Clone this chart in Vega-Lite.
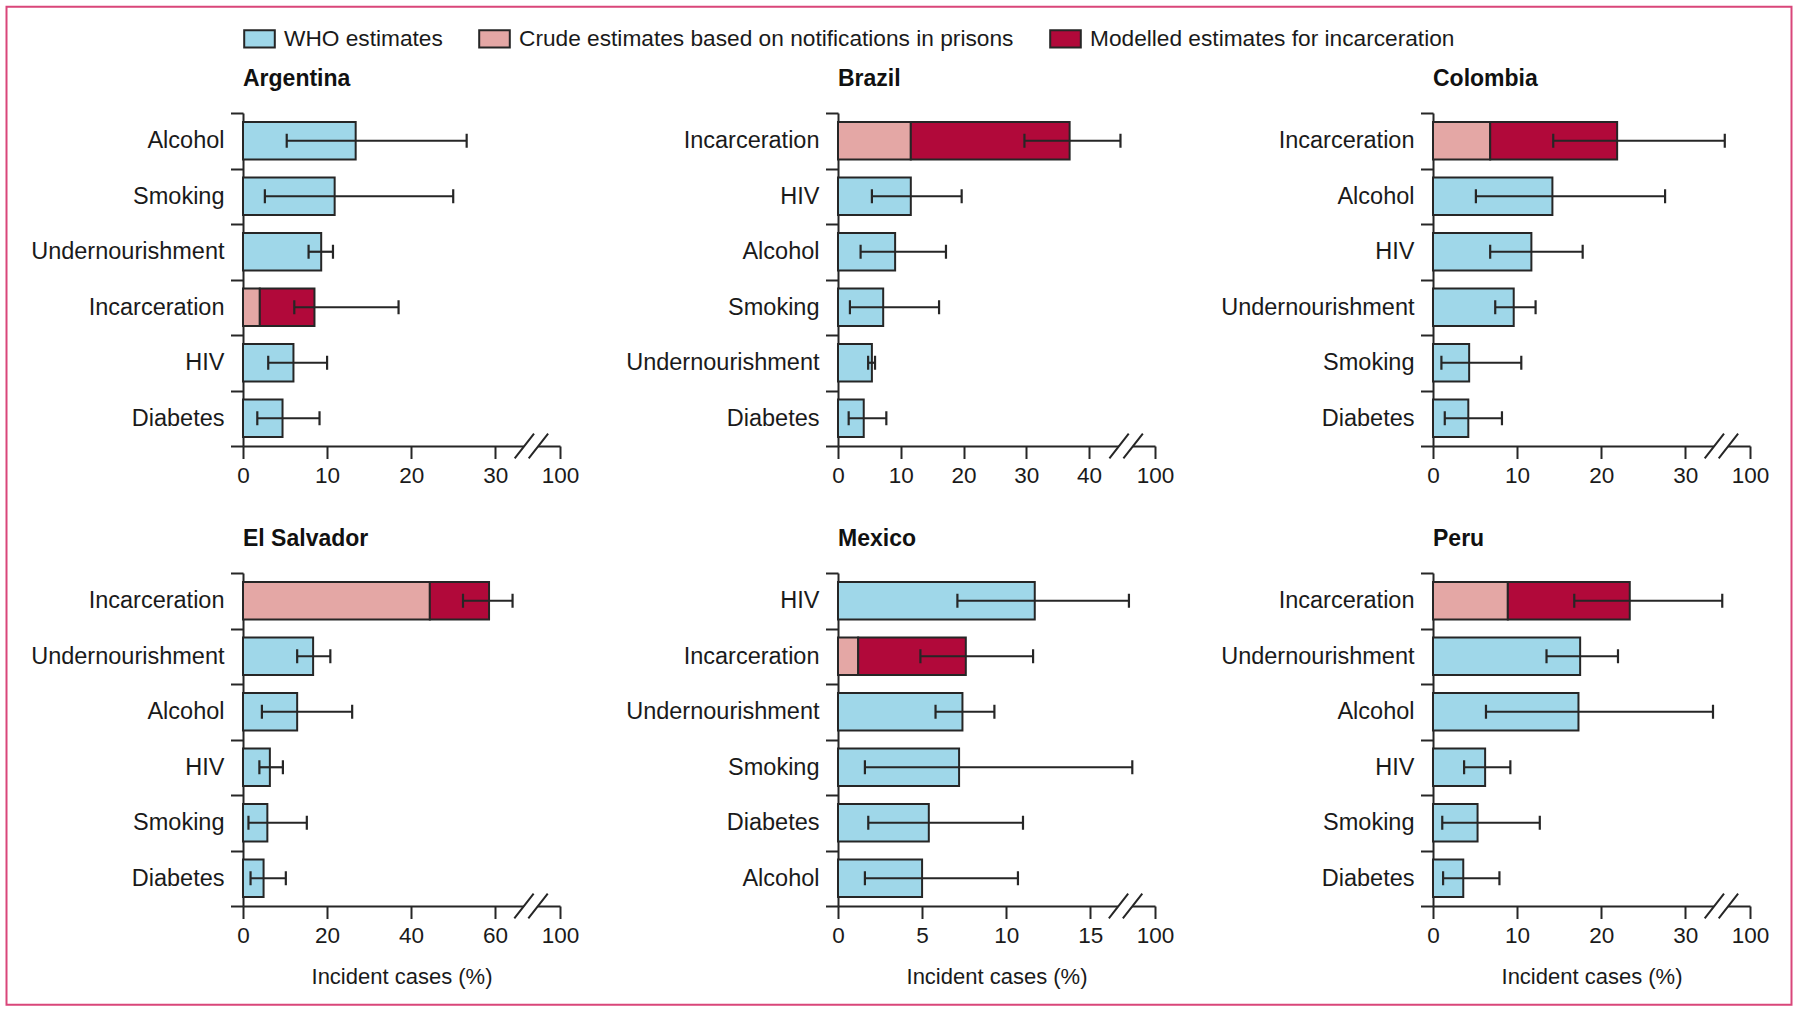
{
  "$schema": "https://vega.github.io/schema/vega-lite/v6.json",
  "padding": {"left": 6, "top": 6, "right": 4, "bottom": 4},
  "datasets": {
    "bars": [
      {"c":"Argentina","f":"Alcohol","t":"WHO estimates","s":0,"e":13.4},
      {"c":"Argentina","f":"Smoking","t":"WHO estimates","s":0,"e":10.9},
      {"c":"Argentina","f":"Undernourishment","t":"WHO estimates","s":0,"e":9.3},
      {"c":"Argentina","f":"Incarceration","t":"Crude estimates based on notifications in prisons","s":0,"e":2.0},
      {"c":"Argentina","f":"Incarceration","t":"Modelled estimates for incarceration","s":2.0,"e":8.5},
      {"c":"Argentina","f":"HIV","t":"WHO estimates","s":0,"e":6.0},
      {"c":"Argentina","f":"Diabetes","t":"WHO estimates","s":0,"e":4.7},
      {"c":"Brazil","f":"Incarceration","t":"Crude estimates based on notifications in prisons","s":0,"e":11.6},
      {"c":"Brazil","f":"Incarceration","t":"Modelled estimates for incarceration","s":11.6,"e":36.9},
      {"c":"Brazil","f":"HIV","t":"WHO estimates","s":0,"e":11.6},
      {"c":"Brazil","f":"Alcohol","t":"WHO estimates","s":0,"e":9.1},
      {"c":"Brazil","f":"Smoking","t":"WHO estimates","s":0,"e":7.2},
      {"c":"Brazil","f":"Undernourishment","t":"WHO estimates","s":0,"e":5.4},
      {"c":"Brazil","f":"Diabetes","t":"WHO estimates","s":0,"e":4.1},
      {"c":"Colombia","f":"Incarceration","t":"Crude estimates based on notifications in prisons","s":0,"e":6.8},
      {"c":"Colombia","f":"Incarceration","t":"Modelled estimates for incarceration","s":6.8,"e":21.9},
      {"c":"Colombia","f":"Alcohol","t":"WHO estimates","s":0,"e":14.2},
      {"c":"Colombia","f":"HIV","t":"WHO estimates","s":0,"e":11.7},
      {"c":"Colombia","f":"Undernourishment","t":"WHO estimates","s":0,"e":9.6},
      {"c":"Colombia","f":"Smoking","t":"WHO estimates","s":0,"e":4.3},
      {"c":"Colombia","f":"Diabetes","t":"WHO estimates","s":0,"e":4.2},
      {"c":"El Salvador","f":"Incarceration","t":"Crude estimates based on notifications in prisons","s":0,"e":44.5},
      {"c":"El Salvador","f":"Incarceration","t":"Modelled estimates for incarceration","s":44.5,"e":58.6},
      {"c":"El Salvador","f":"Undernourishment","t":"WHO estimates","s":0,"e":16.7},
      {"c":"El Salvador","f":"Alcohol","t":"WHO estimates","s":0,"e":12.9},
      {"c":"El Salvador","f":"HIV","t":"WHO estimates","s":0,"e":6.4},
      {"c":"El Salvador","f":"Smoking","t":"WHO estimates","s":0,"e":5.8},
      {"c":"El Salvador","f":"Diabetes","t":"WHO estimates","s":0,"e":4.9},
      {"c":"Mexico","f":"HIV","t":"WHO estimates","s":0,"e":11.7},
      {"c":"Mexico","f":"Incarceration","t":"Crude estimates based on notifications in prisons","s":0,"e":1.2},
      {"c":"Mexico","f":"Incarceration","t":"Modelled estimates for incarceration","s":1.2,"e":7.6},
      {"c":"Mexico","f":"Undernourishment","t":"WHO estimates","s":0,"e":7.4},
      {"c":"Mexico","f":"Smoking","t":"WHO estimates","s":0,"e":7.2},
      {"c":"Mexico","f":"Diabetes","t":"WHO estimates","s":0,"e":5.4},
      {"c":"Mexico","f":"Alcohol","t":"WHO estimates","s":0,"e":5.0},
      {"c":"Peru","f":"Incarceration","t":"Crude estimates based on notifications in prisons","s":0,"e":8.9},
      {"c":"Peru","f":"Incarceration","t":"Modelled estimates for incarceration","s":8.9,"e":23.4},
      {"c":"Peru","f":"Undernourishment","t":"WHO estimates","s":0,"e":17.5},
      {"c":"Peru","f":"Alcohol","t":"WHO estimates","s":0,"e":17.3},
      {"c":"Peru","f":"HIV","t":"WHO estimates","s":0,"e":6.2},
      {"c":"Peru","f":"Smoking","t":"WHO estimates","s":0,"e":5.3},
      {"c":"Peru","f":"Diabetes","t":"WHO estimates","s":0,"e":3.6}
    ],
    "ci": [
      {"c":"Argentina","f":"Alcohol","lo":5.2,"hi":26.6},
      {"c":"Argentina","f":"Smoking","lo":2.6,"hi":25.0},
      {"c":"Argentina","f":"Undernourishment","lo":7.8,"hi":10.7},
      {"c":"Argentina","f":"Incarceration","lo":6.1,"hi":18.5},
      {"c":"Argentina","f":"HIV","lo":3.0,"hi":10.0},
      {"c":"Argentina","f":"Diabetes","lo":1.7,"hi":9.1},
      {"c":"Brazil","f":"Incarceration","lo":29.7,"hi":45.0},
      {"c":"Brazil","f":"HIV","lo":5.4,"hi":19.7},
      {"c":"Brazil","f":"Alcohol","lo":3.6,"hi":17.2},
      {"c":"Brazil","f":"Smoking","lo":1.9,"hi":16.1},
      {"c":"Brazil","f":"Undernourishment","lo":4.8,"hi":5.9},
      {"c":"Brazil","f":"Diabetes","lo":1.7,"hi":7.7},
      {"c":"Colombia","f":"Incarceration","lo":14.3,"hi":34.7},
      {"c":"Colombia","f":"Alcohol","lo":5.1,"hi":27.6},
      {"c":"Colombia","f":"HIV","lo":6.8,"hi":17.8},
      {"c":"Colombia","f":"Undernourishment","lo":7.4,"hi":12.2},
      {"c":"Colombia","f":"Smoking","lo":1.0,"hi":10.5},
      {"c":"Colombia","f":"Diabetes","lo":1.4,"hi":8.2},
      {"c":"El Salvador","f":"Incarceration","lo":52.4,"hi":64.2},
      {"c":"El Salvador","f":"Undernourishment","lo":12.9,"hi":20.8},
      {"c":"El Salvador","f":"Alcohol","lo":4.5,"hi":26.0},
      {"c":"El Salvador","f":"HIV","lo":3.9,"hi":9.5},
      {"c":"El Salvador","f":"Smoking","lo":1.3,"hi":15.2},
      {"c":"El Salvador","f":"Diabetes","lo":1.8,"hi":10.2},
      {"c":"Mexico","f":"HIV","lo":7.1,"hi":17.3},
      {"c":"Mexico","f":"Incarceration","lo":4.9,"hi":11.6},
      {"c":"Mexico","f":"Undernourishment","lo":5.8,"hi":9.3},
      {"c":"Mexico","f":"Smoking","lo":1.6,"hi":17.5},
      {"c":"Mexico","f":"Diabetes","lo":1.8,"hi":11.0},
      {"c":"Mexico","f":"Alcohol","lo":1.6,"hi":10.7},
      {"c":"Peru","f":"Incarceration","lo":16.8,"hi":34.4},
      {"c":"Peru","f":"Undernourishment","lo":13.5,"hi":22.0},
      {"c":"Peru","f":"Alcohol","lo":6.3,"hi":33.3},
      {"c":"Peru","f":"HIV","lo":3.7,"hi":9.2},
      {"c":"Peru","f":"Smoking","lo":1.1,"hi":12.7},
      {"c":"Peru","f":"Diabetes","lo":1.2,"hi":7.9}
    ]
  },
  "columns": 3,
  "spacing": {"row": 127, "column": 278},
  "bounds": "flush",
  "concat": [
    {
      "width": 317, "height": 333,
      "title": {"text": "Argentina"},
      "layer": [
        {"data": {"name": "bars"}, "transform": [{"filter": "datum.c === 'Argentina'"}],
         "mark": {"type": "bar", "height": {"band": 0.68}, "stroke": "#262626", "strokeWidth": 2},
         "encoding": {
           "y": {"field": "f", "type": "nominal", "scale": {"domain": ["Alcohol","Smoking","Undernourishment","Incarceration","HIV","Diabetes"], "paddingInner": 0, "paddingOuter": 0}, "axis": {"title": null}},
           "x": {"field": "s", "type": "quantitative", "scale": {"domain": [0, 37.7], "nice": false}, "axis": {"values": [0,10,20,30,37.7], "labelExpr": "datum.value > 35 ? '100' : datum.label", "title": null}},
           "x2": {"field": "e"},
           "color": {"field": "t", "type": "nominal", "scale": {"domain": ["WHO estimates","Crude estimates based on notifications in prisons","Modelled estimates for incarceration"], "range": ["#9fd7e9","#e4a7a5","#b1093a"]}, "legend": {"title": null}}
         }},
        {"data": {"name": "ci"}, "transform": [{"filter": "datum.c === 'Argentina'"}],
         "mark": {"type": "rule", "color": "#262626", "strokeWidth": 2.2},
         "encoding": {"y": {"field": "f", "type": "nominal"}, "x": {"field": "lo", "type": "quantitative"}, "x2": {"field": "hi"}}},
        {"data": {"name": "ci"}, "transform": [{"filter": "datum.c === 'Argentina'"}],
         "mark": {"type": "tick", "color": "#262626", "thickness": 2.2, "size": 14, "opacity": 1},
         "encoding": {"y": {"field": "f", "type": "nominal"}, "x": {"field": "lo", "type": "quantitative"}}},
        {"data": {"name": "ci"}, "transform": [{"filter": "datum.c === 'Argentina'"}],
         "mark": {"type": "tick", "color": "#262626", "thickness": 2.2, "size": 14, "opacity": 1},
         "encoding": {"y": {"field": "f", "type": "nominal"}, "x": {"field": "hi", "type": "quantitative"}}},
        {"data": {"values": [{}]},
         "mark": {"type": "point", "shape": "M-1,0.74L0.156,-0.74L1,-0.74L-0.162,0.74Z", "size": 1116, "filled": true, "fill": "white", "strokeWidth": 0, "opacity": 1},
         "encoding": {"x": {"datum": 34.3, "type": "quantitative"}, "y": {"datum": "Diabetes", "type": "nominal", "bandPosition": 1},
           "stroke": {"datum": 0, "type": "quantitative", "scale": {"domain": [0, 1], "range": ["rgba(255,255,255,0)", "rgba(255,255,255,0)"]},
             "legend": {"type": "gradient", "orient": "none", "legendX": -236.5, "legendY": -106.3, "direction": "horizontal", "gradientLength": 1785, "gradientThickness": 998, "gradientStrokeColor": "#d9467a", "gradientStrokeWidth": 2, "title": null, "labelExpr": "''", "padding": 0}}}},
        {"data": {"values": [{}]},
         "mark": {"type": "point", "shape": "M-1,0.74L0.156,-0.74M-0.162,0.74L1,-0.74", "size": 1116, "filled": false, "stroke": "#262626", "strokeWidth": 2, "opacity": 1},
         "encoding": {"x": {"datum": 34.3, "type": "quantitative"}, "y": {"datum": "Diabetes", "type": "nominal", "bandPosition": 1}}}
      ]
    },
    {
      "width": 317, "height": 333,
      "title": {"text": "Brazil"},
      "layer": [
        {"data": {"name": "bars"}, "transform": [{"filter": "datum.c === 'Brazil'"}],
         "mark": {"type": "bar", "height": {"band": 0.68}, "stroke": "#262626", "strokeWidth": 2},
         "encoding": {
           "y": {"field": "f", "type": "nominal", "scale": {"domain": ["Incarceration","HIV","Alcohol","Smoking","Undernourishment","Diabetes"], "paddingInner": 0, "paddingOuter": 0}, "axis": {"title": null}},
           "x": {"field": "s", "type": "quantitative", "scale": {"domain": [0, 50.5], "nice": false}, "axis": {"values": [0,10,20,30,40,50.5], "labelExpr": "datum.value > 45 ? '100' : datum.label", "title": null}},
           "x2": {"field": "e"},
           "color": {"field": "t", "type": "nominal", "scale": {"domain": ["WHO estimates","Crude estimates based on notifications in prisons","Modelled estimates for incarceration"], "range": ["#9fd7e9","#e4a7a5","#b1093a"]}, "legend": {"title": null}}
         }},
        {"data": {"name": "ci"}, "transform": [{"filter": "datum.c === 'Brazil'"}],
         "mark": {"type": "rule", "color": "#262626", "strokeWidth": 2.2},
         "encoding": {"y": {"field": "f", "type": "nominal"}, "x": {"field": "lo", "type": "quantitative"}, "x2": {"field": "hi"}}},
        {"data": {"name": "ci"}, "transform": [{"filter": "datum.c === 'Brazil'"}],
         "mark": {"type": "tick", "color": "#262626", "thickness": 2.2, "size": 14, "opacity": 1},
         "encoding": {"y": {"field": "f", "type": "nominal"}, "x": {"field": "lo", "type": "quantitative"}}},
        {"data": {"name": "ci"}, "transform": [{"filter": "datum.c === 'Brazil'"}],
         "mark": {"type": "tick", "color": "#262626", "thickness": 2.2, "size": 14, "opacity": 1},
         "encoding": {"y": {"field": "f", "type": "nominal"}, "x": {"field": "hi", "type": "quantitative"}}},
        {"data": {"values": [{}]},
         "mark": {"type": "point", "shape": "M-1,0.74L0.156,-0.74L1,-0.74L-0.162,0.74Z", "size": 1116, "filled": true, "fill": "white", "strokeWidth": 0, "opacity": 1},
         "encoding": {"x": {"datum": 45.9, "type": "quantitative"}, "y": {"datum": "Diabetes", "type": "nominal", "bandPosition": 1}}},
        {"data": {"values": [{}]},
         "mark": {"type": "point", "shape": "M-1,0.74L0.156,-0.74M-0.162,0.74L1,-0.74", "size": 1116, "filled": false, "stroke": "#262626", "strokeWidth": 2, "opacity": 1},
         "encoding": {"x": {"datum": 45.9, "type": "quantitative"}, "y": {"datum": "Diabetes", "type": "nominal", "bandPosition": 1}}}
      ]
    },
    {
      "width": 317, "height": 333,
      "title": {"text": "Colombia"},
      "layer": [
        {"data": {"name": "bars"}, "transform": [{"filter": "datum.c === 'Colombia'"}],
         "mark": {"type": "bar", "height": {"band": 0.68}, "stroke": "#262626", "strokeWidth": 2},
         "encoding": {
           "y": {"field": "f", "type": "nominal", "scale": {"domain": ["Incarceration","Alcohol","HIV","Undernourishment","Smoking","Diabetes"], "paddingInner": 0, "paddingOuter": 0}, "axis": {"title": null}},
           "x": {"field": "s", "type": "quantitative", "scale": {"domain": [0, 37.7], "nice": false}, "axis": {"values": [0,10,20,30,37.7], "labelExpr": "datum.value > 35 ? '100' : datum.label", "title": null}},
           "x2": {"field": "e"},
           "color": {"field": "t", "type": "nominal", "scale": {"domain": ["WHO estimates","Crude estimates based on notifications in prisons","Modelled estimates for incarceration"], "range": ["#9fd7e9","#e4a7a5","#b1093a"]}, "legend": {"title": null}}
         }},
        {"data": {"name": "ci"}, "transform": [{"filter": "datum.c === 'Colombia'"}],
         "mark": {"type": "rule", "color": "#262626", "strokeWidth": 2.2},
         "encoding": {"y": {"field": "f", "type": "nominal"}, "x": {"field": "lo", "type": "quantitative"}, "x2": {"field": "hi"}}},
        {"data": {"name": "ci"}, "transform": [{"filter": "datum.c === 'Colombia'"}],
         "mark": {"type": "tick", "color": "#262626", "thickness": 2.2, "size": 14, "opacity": 1},
         "encoding": {"y": {"field": "f", "type": "nominal"}, "x": {"field": "lo", "type": "quantitative"}}},
        {"data": {"name": "ci"}, "transform": [{"filter": "datum.c === 'Colombia'"}],
         "mark": {"type": "tick", "color": "#262626", "thickness": 2.2, "size": 14, "opacity": 1},
         "encoding": {"y": {"field": "f", "type": "nominal"}, "x": {"field": "hi", "type": "quantitative"}}},
        {"data": {"values": [{}]},
         "mark": {"type": "point", "shape": "M-1,0.74L0.156,-0.74L1,-0.74L-0.162,0.74Z", "size": 1116, "filled": true, "fill": "white", "strokeWidth": 0, "opacity": 1},
         "encoding": {"x": {"datum": 34.3, "type": "quantitative"}, "y": {"datum": "Diabetes", "type": "nominal", "bandPosition": 1}}},
        {"data": {"values": [{}]},
         "mark": {"type": "point", "shape": "M-1,0.74L0.156,-0.74M-0.162,0.74L1,-0.74", "size": 1116, "filled": false, "stroke": "#262626", "strokeWidth": 2, "opacity": 1},
         "encoding": {"x": {"datum": 34.3, "type": "quantitative"}, "y": {"datum": "Diabetes", "type": "nominal", "bandPosition": 1}}}
      ]
    },
    {
      "width": 317, "height": 333,
      "title": {"text": "El Salvador"},
      "layer": [
        {"data": {"name": "bars"}, "transform": [{"filter": "datum.c === 'El Salvador'"}],
         "mark": {"type": "bar", "height": {"band": 0.68}, "stroke": "#262626", "strokeWidth": 2},
         "encoding": {
           "y": {"field": "f", "type": "nominal", "scale": {"domain": ["Incarceration","Undernourishment","Alcohol","HIV","Smoking","Diabetes"], "paddingInner": 0, "paddingOuter": 0}, "axis": {"title": null}},
           "x": {"field": "s", "type": "quantitative", "scale": {"domain": [0, 75.5], "nice": false}, "axis": {"values": [0,20,40,60,75.5], "labelExpr": "datum.value > 70 ? '100' : datum.label", "title": "Incident cases (%)"}},
           "x2": {"field": "e"},
           "color": {"field": "t", "type": "nominal", "scale": {"domain": ["WHO estimates","Crude estimates based on notifications in prisons","Modelled estimates for incarceration"], "range": ["#9fd7e9","#e4a7a5","#b1093a"]}, "legend": {"title": null}}
         }},
        {"data": {"name": "ci"}, "transform": [{"filter": "datum.c === 'El Salvador'"}],
         "mark": {"type": "rule", "color": "#262626", "strokeWidth": 2.2},
         "encoding": {"y": {"field": "f", "type": "nominal"}, "x": {"field": "lo", "type": "quantitative"}, "x2": {"field": "hi"}}},
        {"data": {"name": "ci"}, "transform": [{"filter": "datum.c === 'El Salvador'"}],
         "mark": {"type": "tick", "color": "#262626", "thickness": 2.2, "size": 14, "opacity": 1},
         "encoding": {"y": {"field": "f", "type": "nominal"}, "x": {"field": "lo", "type": "quantitative"}}},
        {"data": {"name": "ci"}, "transform": [{"filter": "datum.c === 'El Salvador'"}],
         "mark": {"type": "tick", "color": "#262626", "thickness": 2.2, "size": 14, "opacity": 1},
         "encoding": {"y": {"field": "f", "type": "nominal"}, "x": {"field": "hi", "type": "quantitative"}}},
        {"data": {"values": [{}]},
         "mark": {"type": "point", "shape": "M-1,0.74L0.156,-0.74L1,-0.74L-0.162,0.74Z", "size": 1116, "filled": true, "fill": "white", "strokeWidth": 0, "opacity": 1},
         "encoding": {"x": {"datum": 68.6, "type": "quantitative"}, "y": {"datum": "Diabetes", "type": "nominal", "bandPosition": 1}}},
        {"data": {"values": [{}]},
         "mark": {"type": "point", "shape": "M-1,0.74L0.156,-0.74M-0.162,0.74L1,-0.74", "size": 1116, "filled": false, "stroke": "#262626", "strokeWidth": 2, "opacity": 1},
         "encoding": {"x": {"datum": 68.6, "type": "quantitative"}, "y": {"datum": "Diabetes", "type": "nominal", "bandPosition": 1}}}
      ]
    },
    {
      "width": 317, "height": 333,
      "title": {"text": "Mexico"},
      "layer": [
        {"data": {"name": "bars"}, "transform": [{"filter": "datum.c === 'Mexico'"}],
         "mark": {"type": "bar", "height": {"band": 0.68}, "stroke": "#262626", "strokeWidth": 2},
         "encoding": {
           "y": {"field": "f", "type": "nominal", "scale": {"domain": ["HIV","Incarceration","Undernourishment","Smoking","Diabetes","Alcohol"], "paddingInner": 0, "paddingOuter": 0}, "axis": {"title": null}},
           "x": {"field": "s", "type": "quantitative", "scale": {"domain": [0, 18.85], "nice": false}, "axis": {"values": [0,5,10,15,18.85], "labelExpr": "datum.value > 17 ? '100' : datum.label", "title": "Incident cases (%)"}},
           "x2": {"field": "e"},
           "color": {"field": "t", "type": "nominal", "scale": {"domain": ["WHO estimates","Crude estimates based on notifications in prisons","Modelled estimates for incarceration"], "range": ["#9fd7e9","#e4a7a5","#b1093a"]}, "legend": {"title": null}}
         }},
        {"data": {"name": "ci"}, "transform": [{"filter": "datum.c === 'Mexico'"}],
         "mark": {"type": "rule", "color": "#262626", "strokeWidth": 2.2},
         "encoding": {"y": {"field": "f", "type": "nominal"}, "x": {"field": "lo", "type": "quantitative"}, "x2": {"field": "hi"}}},
        {"data": {"name": "ci"}, "transform": [{"filter": "datum.c === 'Mexico'"}],
         "mark": {"type": "tick", "color": "#262626", "thickness": 2.2, "size": 14, "opacity": 1},
         "encoding": {"y": {"field": "f", "type": "nominal"}, "x": {"field": "lo", "type": "quantitative"}}},
        {"data": {"name": "ci"}, "transform": [{"filter": "datum.c === 'Mexico'"}],
         "mark": {"type": "tick", "color": "#262626", "thickness": 2.2, "size": 14, "opacity": 1},
         "encoding": {"y": {"field": "f", "type": "nominal"}, "x": {"field": "hi", "type": "quantitative"}}},
        {"data": {"values": [{}]},
         "mark": {"type": "point", "shape": "M-1,0.74L0.156,-0.74L1,-0.74L-0.162,0.74Z", "size": 1116, "filled": true, "fill": "white", "strokeWidth": 0, "opacity": 1},
         "encoding": {"x": {"datum": 17.1, "type": "quantitative"}, "y": {"datum": "Alcohol", "type": "nominal", "bandPosition": 1}}},
        {"data": {"values": [{}]},
         "mark": {"type": "point", "shape": "M-1,0.74L0.156,-0.74M-0.162,0.74L1,-0.74", "size": 1116, "filled": false, "stroke": "#262626", "strokeWidth": 2, "opacity": 1},
         "encoding": {"x": {"datum": 17.1, "type": "quantitative"}, "y": {"datum": "Alcohol", "type": "nominal", "bandPosition": 1}}}
      ]
    },
    {
      "width": 317, "height": 333,
      "title": {"text": "Peru"},
      "layer": [
        {"data": {"name": "bars"}, "transform": [{"filter": "datum.c === 'Peru'"}],
         "mark": {"type": "bar", "height": {"band": 0.68}, "stroke": "#262626", "strokeWidth": 2},
         "encoding": {
           "y": {"field": "f", "type": "nominal", "scale": {"domain": ["Incarceration","Undernourishment","Alcohol","HIV","Smoking","Diabetes"], "paddingInner": 0, "paddingOuter": 0}, "axis": {"title": null}},
           "x": {"field": "s", "type": "quantitative", "scale": {"domain": [0, 37.7], "nice": false}, "axis": {"values": [0,10,20,30,37.7], "labelExpr": "datum.value > 35 ? '100' : datum.label", "title": "Incident cases (%)"}},
           "x2": {"field": "e"},
           "color": {"field": "t", "type": "nominal", "scale": {"domain": ["WHO estimates","Crude estimates based on notifications in prisons","Modelled estimates for incarceration"], "range": ["#9fd7e9","#e4a7a5","#b1093a"]}, "legend": {"title": null}}
         }},
        {"data": {"name": "ci"}, "transform": [{"filter": "datum.c === 'Peru'"}],
         "mark": {"type": "rule", "color": "#262626", "strokeWidth": 2.2},
         "encoding": {"y": {"field": "f", "type": "nominal"}, "x": {"field": "lo", "type": "quantitative"}, "x2": {"field": "hi"}}},
        {"data": {"name": "ci"}, "transform": [{"filter": "datum.c === 'Peru'"}],
         "mark": {"type": "tick", "color": "#262626", "thickness": 2.2, "size": 14, "opacity": 1},
         "encoding": {"y": {"field": "f", "type": "nominal"}, "x": {"field": "lo", "type": "quantitative"}}},
        {"data": {"name": "ci"}, "transform": [{"filter": "datum.c === 'Peru'"}],
         "mark": {"type": "tick", "color": "#262626", "thickness": 2.2, "size": 14, "opacity": 1},
         "encoding": {"y": {"field": "f", "type": "nominal"}, "x": {"field": "hi", "type": "quantitative"}}},
        {"data": {"values": [{}]},
         "mark": {"type": "point", "shape": "M-1,0.74L0.156,-0.74L1,-0.74L-0.162,0.74Z", "size": 1116, "filled": true, "fill": "white", "strokeWidth": 0, "opacity": 1},
         "encoding": {"x": {"datum": 34.3, "type": "quantitative"}, "y": {"datum": "Diabetes", "type": "nominal", "bandPosition": 1}}},
        {"data": {"values": [{}]},
         "mark": {"type": "point", "shape": "M-1,0.74L0.156,-0.74M-0.162,0.74L1,-0.74", "size": 1116, "filled": false, "stroke": "#262626", "strokeWidth": 2, "opacity": 1},
         "encoding": {"x": {"datum": 34.3, "type": "quantitative"}, "y": {"datum": "Diabetes", "type": "nominal", "bandPosition": 1}}}
      ]
    }
  ],
  "config": {
    "view": {"stroke": null},
    "font": "Liberation Sans",
    "axis": {"domainColor": "#262626", "domainWidth": 2, "tickColor": "#262626", "tickWidth": 2, "tickSize": 12.5, "labelFont": "Liberation Sans", "labelFontSize": 22.5, "labelColor": "#1a1a1a", "grid": false, "titleFont": "Liberation Sans", "titleFontSize": 22, "titleFontWeight": "normal", "titleColor": "#1a1a1a"},
    "axisX": {"labelFlush": false, "labelOverlap": false, "labelPadding": 6, "titlePadding": 19},
    "axisY": {"tickBand": "extent", "labelPadding": 6.5, "labelLimit": 400, "labelFontSize": 23.5},
    "title": {"anchor": "start", "frame": "group", "font": "Liberation Sans", "fontSize": 23, "fontWeight": "bold", "color": "#111111", "baseline": "alphabetic", "offset": 10},
    "legend": {"orient": "none", "legendX": 0, "legendY": -91, "direction": "horizontal", "columns": 3, "padding": 0, "symbolType": "M-1,-0.57H1V0.57H-1Z", "symbolSize": 936, "symbolStrokeColor": "#262626", "symbolStrokeWidth": 2, "labelFont": "Liberation Sans", "labelFontSize": 22.7, "labelColor": "#1a1a1a", "labelOffset": 8, "labelLimit": 800, "columnPadding": 32}
  }
}
